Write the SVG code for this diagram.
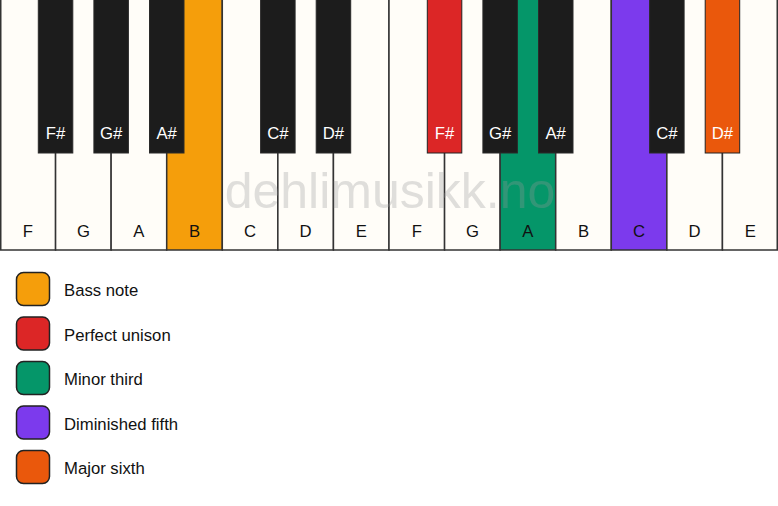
<svg xmlns="http://www.w3.org/2000/svg" width="778" height="506" viewBox="0 0 778 506">
<style>
.w{fill:#fffdf8;stroke:#333;stroke-width:1.5}
.b{fill:#1c1c1c;stroke:#2a2a2a;stroke-width:1}
.wl{font-family:"Liberation Sans",Arial,sans-serif;font-size:16.7px;fill:#111;text-anchor:middle}
.bl{font-family:"Liberation Sans",Arial,sans-serif;font-size:16.7px;fill:#fff;text-anchor:middle}
.lg{stroke:#222;stroke-width:1.5}
.lt{font-family:"Liberation Sans",Arial,sans-serif;font-size:16.7px;fill:#111}
.wm{font-family:"Liberation Sans",Arial,sans-serif;font-size:50px;fill:#999;opacity:0.3;text-anchor:middle}
</style>
<rect width="778" height="506" fill="#ffffff"/>
<g id="white-keys">
<g id="wk-F1"><rect class="w" x="0.75" y="-1" width="54.82" height="251"/><text class="wl" x="27.8" y="237">F</text></g>
<g id="wk-G1"><rect class="w" x="55.57" y="-1" width="55.57" height="251"/><text class="wl" x="83.4" y="237">G</text></g>
<g id="wk-A1"><rect class="w" x="111.14" y="-1" width="55.57" height="251"/><text class="wl" x="138.9" y="237">A</text></g>
<g id="wk-B1"><rect class="w" x="166.71" y="-1" width="55.57" height="251" style="fill:#f59e0b"/><text class="wl" x="194.5" y="237">B</text></g>
<g id="wk-C1"><rect class="w" x="222.29" y="-1" width="55.57" height="251"/><text class="wl" x="250.1" y="237">C</text></g>
<g id="wk-D1"><rect class="w" x="277.86" y="-1" width="55.57" height="251"/><text class="wl" x="305.6" y="237">D</text></g>
<g id="wk-E1"><rect class="w" x="333.43" y="-1" width="55.57" height="251"/><text class="wl" x="361.2" y="237">E</text></g>
<g id="wk-F2"><rect class="w" x="389" y="-1" width="55.57" height="251"/><text class="wl" x="416.8" y="237">F</text></g>
<g id="wk-G2"><rect class="w" x="444.57" y="-1" width="55.57" height="251"/><text class="wl" x="472.4" y="237">G</text></g>
<g id="wk-A2"><rect class="w" x="500.14" y="-1" width="55.57" height="251" style="fill:#059669"/><text class="wl" x="527.9" y="237">A</text></g>
<g id="wk-B2"><rect class="w" x="555.71" y="-1" width="55.57" height="251"/><text class="wl" x="583.5" y="237">B</text></g>
<g id="wk-C2"><rect class="w" x="611.29" y="-1" width="55.57" height="251" style="fill:#7c3aed"/><text class="wl" x="639.1" y="237">C</text></g>
<g id="wk-D2"><rect class="w" x="666.86" y="-1" width="55.57" height="251"/><text class="wl" x="694.6" y="237">D</text></g>
<g id="wk-E2"><rect class="w" x="722.43" y="-1" width="54.82" height="251"/><text class="wl" x="750.2" y="237">E</text></g>
</g>
<text class="wm" x="390" y="208">dehlimusikk.no</text>
<g id="black-keys">
<g id="bk-Fs1"><rect class="b" x="38.3" y="-1" width="34.5" height="154"/><text class="bl" x="55.6" y="139">F#</text></g>
<g id="bk-Gs1"><rect class="b" x="93.9" y="-1" width="34.5" height="154"/><text class="bl" x="111.1" y="139">G#</text></g>
<g id="bk-As1"><rect class="b" x="149.5" y="-1" width="34.5" height="154"/><text class="bl" x="166.7" y="139">A#</text></g>
<g id="bk-Cs1"><rect class="b" x="260.6" y="-1" width="34.5" height="154"/><text class="bl" x="277.9" y="139">C#</text></g>
<g id="bk-Ds1"><rect class="b" x="316.2" y="-1" width="34.5" height="154"/><text class="bl" x="333.4" y="139">D#</text></g>
<g id="bk-Fs2"><rect class="b" x="427.3" y="-1" width="34.5" height="154" style="fill:#dc2626;stroke:#222"/><text class="bl" x="444.6" y="139">F#</text></g>
<g id="bk-Gs2"><rect class="b" x="482.9" y="-1" width="34.5" height="154"/><text class="bl" x="500.1" y="139">G#</text></g>
<g id="bk-As2"><rect class="b" x="538.5" y="-1" width="34.5" height="154"/><text class="bl" x="555.7" y="139">A#</text></g>
<g id="bk-Cs2"><rect class="b" x="649.6" y="-1" width="34.5" height="154"/><text class="bl" x="666.9" y="139">C#</text></g>
<g id="bk-Ds2"><rect class="b" x="705.2" y="-1" width="34.5" height="154" style="fill:#ea580c;stroke:#222"/><text class="bl" x="722.4" y="139">D#</text></g>
</g>
<g id="legend">
<g id="lg-bass"><rect class="lg" x="16.5" y="272.5" width="33" height="33" rx="7" fill="#f59e0b"/><text class="lt" x="64" y="296">Bass note</text></g>
<g id="lg-unison"><rect class="lg" x="16.5" y="317" width="33" height="33" rx="7" fill="#dc2626"/><text class="lt" x="64" y="340.5">Perfect unison</text></g>
<g id="lg-minor3"><rect class="lg" x="16.5" y="361.5" width="33" height="33" rx="7" fill="#059669"/><text class="lt" x="64" y="385">Minor third</text></g>
<g id="lg-dim5"><rect class="lg" x="16.5" y="406" width="33" height="33" rx="7" fill="#7c3aed"/><text class="lt" x="64" y="429.5">Diminished fifth</text></g>
<g id="lg-major6"><rect class="lg" x="16.5" y="450.5" width="33" height="33" rx="7" fill="#ea580c"/><text class="lt" x="64" y="474">Major sixth</text></g>
</g>
<g id="connectors"/>
</svg>
